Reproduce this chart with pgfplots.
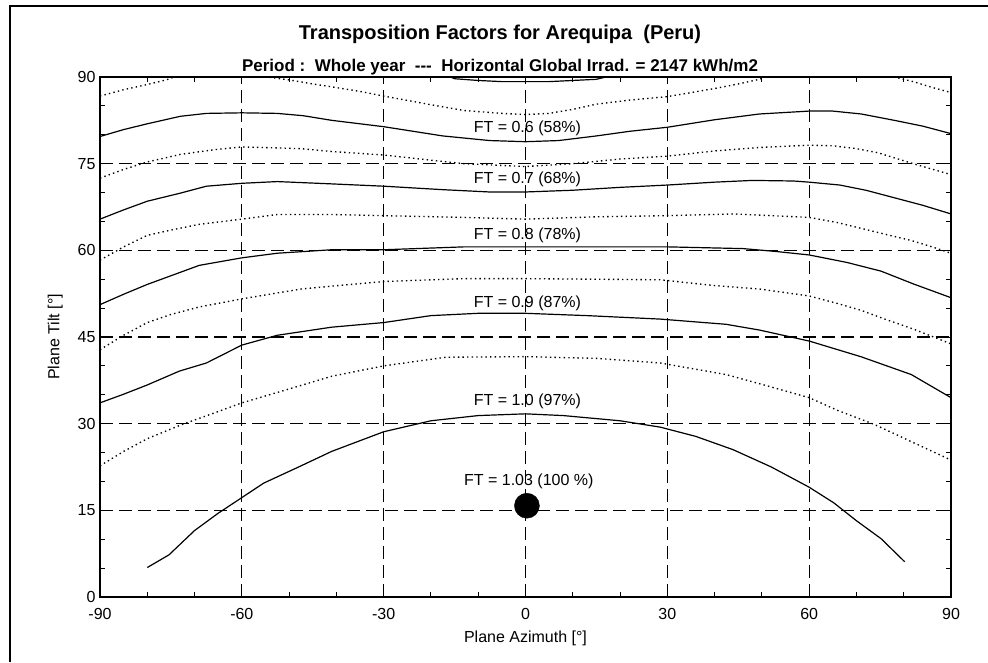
\documentclass[border=0pt]{standalone}
\usepackage{pgfplots}
\pgfplotsset{compat=1.18}
\usepackage{fontspec}
\setmainfont{Liberation Sans}
\begin{document}
\begin{tikzpicture}[x=1pt,y=1pt]
\useasboundingbox (0,0) rectangle (988,662);
\draw[line width=2pt] (10,0) -- (10,656) -- (988,656);
\node[font=\fontsize{20}{24}\selectfont\bfseries] at (500,628) {Transposition Factors for Arequipa\ \ (Peru)};
\node[font=\fontsize{17}{20}\selectfont\bfseries] at (500,595) {Period :\ \ Whole year\ \ -{}-{}-\ \ Horizontal Global Irrad. = 2147 kWh/m2};
\begin{axis}[
  at={(100pt,65pt)}, anchor=south west, scale only axis,
  width=851pt, height=520pt,
  xmin=-90, xmax=90, ymin=0, ymax=90,
  xtick={-90,-60,...,90}, ytick={0,15,...,90},
  minor x tick num=2, minor y tick num=2,
  grid=major,
  major grid style={black, line width=1.2pt, dash pattern=on 13pt off 6pt},
  axis line style={line width=2.6pt},
  tick style={black, line width=1pt},
  major tick length=6pt, minor tick length=5pt,
  /pgf/number format/assume math mode=true,
  ticklabel style={font=\fontsize{16}{19}\selectfont},
  xticklabel style={yshift=-8pt},
  yticklabel style={xshift=-1pt},
  xlabel={Plane Azimuth [°]}, ylabel={Plane Tilt [°]},
  label style={font=\fontsize{16}{19}\selectfont},
  xlabel style={at={(axis description cs:0.5,-0.0788)}, anchor=center},
  ylabel style={at={(axis description cs:-0.0525,0.5)}, anchor=center},
  clip=true,
  solid curve/.style={black, line width=1.2pt},
  dot curve/.style={black, line width=1.35pt, dash pattern=on 1.4pt off 3.2pt},
]
% FT 0.5 (top)
\addplot[solid curve] coordinates {(-17,90.4) (-15,89.7) (-10,89.4) (-5,89.2) (0,89.2) (5,89.2) (10,89.4) (15,89.6) (19,90.4)};
% FT 0.55 dotted
\addplot[dot curve] coordinates {(-90,86.7) (-85,87.8) (-80,88.7) (-76,89.5) (-73,90.4)};
\addplot[dot curve] coordinates {(-56,90.4) (-54.6,90) (-50,89.5) (-45,88.8) (-41,88.3) (-35,87.5) (-30,86.7) (-20,85.2) (-13,84.2) (-5,83.7) (0,83.5) (5,83.7) (10,84.4) (15,85.3) (22,86.0) (30,86.6) (40,88.0) (45,88.8) (49.5,89.6) (52,90.4)};
\addplot[dot curve] coordinates {(76,90.4) (78,90) (82,89.2) (86,88.2) (90,87.3)};
% FT 0.6
\addplot[solid curve] coordinates {(-90,79.7) (-85,80.9) (-80,81.9) (-73,83.2) (-67.5,83.7) (-60,83.8) (-52.5,83.7) (-47,83.3) (-41,82.5) (-30,81.4) (-17.5,79.8) (-7.6,79.0) (0,78.8) (7,79.0) (15,79.8) (22,80.6) (30,81.3) (40,82.6) (49.5,83.6) (60,84.1) (65,84.1) (71,83.6) (78,82.5) (84,81.5) (90,80.2)};
% FT 0.65 dotted
\addplot[dot curve] coordinates {(-90,72.5) (-85,74.0) (-80,75.3) (-73,76.6) (-66,77.4) (-60,77.9) (-47.5,77.6) (-41,77.1) (-30,76.5) (-20,75.6) (-13,75.0) (0,74.5) (10,75.0) (20,75.8) (30,76.3) (40,77.2) (49.5,77.8) (60,78.2) (65,78.1) (70,77.6) (74.5,76.9) (82,75.0) (90,73.1)};
% FT 0.7
\addplot[solid curve] coordinates {(-90,65.4) (-85,67.0) (-80,68.5) (-73,69.9) (-67.5,71.1) (-60,71.6) (-52.5,71.9) (-41,71.5) (-30,71.1) (-17.5,70.5) (-7.6,70.1) (0,70.1) (10,70.4) (20,70.9) (30,71.3) (40,71.8) (48,72.1) (56.7,72.0) (60,71.8) (66.5,71.3) (72,70.4) (78,69.1) (84,67.8) (90,66.3)};
% FT 0.75 dotted
\addplot[dot curve] coordinates {(-90,58.3) (-85,60.6) (-80,62.6) (-75,63.5) (-69,64.5) (-60,65.4) (-52.5,66.2) (-41,66.2) (-30,66.0) (-13,65.7) (0,65.4) (15,65.8) (30,66.0) (44,66.3) (52,66.0) (60,65.7) (66,64.8) (71,63.8) (76,62.8) (81.6,61.7) (86,60.6) (90,59.5)};
% FT 0.8
\addplot[solid curve] coordinates {(-90,50.6) (-85,52.4) (-80,54.1) (-75,55.6) (-69,57.4) (-60,58.7) (-52.5,59.5) (-41,60.1) (-30,60.1) (-13,60.6) (0,60.6) (15,60.6) (30,60.6) (46,60.3) (53,59.8) (60,59.2) (68,57.9) (75.2,56.4) (82,54.2) (90,51.8)};
% FT 0.85 dotted
\addplot[dot curve] coordinates {(-90,42.8) (-85,45.3) (-80,47.5) (-75,48.9) (-69,50.2) (-60,51.6) (-47.5,53.3) (-41,53.8) (-30,54.6) (-13,55.1) (0,55.1) (15,55.0) (28.5,54.9) (40,53.9) (49.5,53.3) (60,52.1) (66,50.8) (71,49.6) (76,48.1) (81.6,46.5) (86,45.1) (90,43.8)};
% FT 0.9
\addplot[solid curve] coordinates {(-90,33.6) (-85,35.1) (-80,36.7) (-73.2,39.1) (-67.5,40.5) (-60,43.6) (-52.5,45.3) (-41,46.7) (-30,47.5) (-20,48.7) (-10,49.1) (0,49.1) (13,48.7) (28.5,48.1) (42.4,47.2) (49.5,46.2) (60,44.3) (70.9,41.6) (81.6,38.5) (90,34.5)};
% FT 0.95 dotted
\addplot[dot curve] coordinates {(-90,22.7) (-85,25.2) (-80,27.4) (-72.5,29.9) (-66,31.8) (-60,33.6) (-52.5,35.4) (-41,38.2) (-30,40.0) (-16.8,41.5) (0,41.6) (15,41.3) (28.5,40.5) (42.4,38.5) (50,36.8) (60,34.5) (66,32.3) (73.7,29.9) (80,27.5) (90,23.7)};
% FT 1.0
\addplot[solid curve] coordinates {(-80,5.1) (-75.4,7.3) (-70,11.5) (-65,14.5) (-60,17.2) (-55.4,19.7) (-48,22.5) (-41,25.2) (-30,28.6) (-20,30.5) (-10,31.4) (0,31.7) (8,31.4) (20,30.5) (28.5,29.4) (36,27.8) (43.9,25.5) (52,22.5) (60,19.0) (65.2,16.3) (70,13.2) (75.2,10.1) (80.2,6.1)};
% optimum
\addplot[only marks, mark=*, mark size=12.5pt, black] coordinates {(0.3,15.8)};
\begin{scope}[every node/.style={font=\fontsize{16}{19}\selectfont, inner sep=0pt}]
\node at (axis cs:0.4,81.1) {FT = 0.6 (58\%)};
\node at (axis cs:0.4,72.2) {FT = 0.7 (68\%)};
\node at (axis cs:0.4,62.6) {FT = 0.8 (78\%)};
\node at (axis cs:0.4,50.9) {FT = 0.9 (87\%)};
\node at (axis cs:0.4,33.9) {FT = 1.0 (97\%)};
\node at (axis cs:0.7,20.0) {FT = 1.03 (100 \%)};
\end{scope}
\end{axis}
\end{tikzpicture}
\end{document}
